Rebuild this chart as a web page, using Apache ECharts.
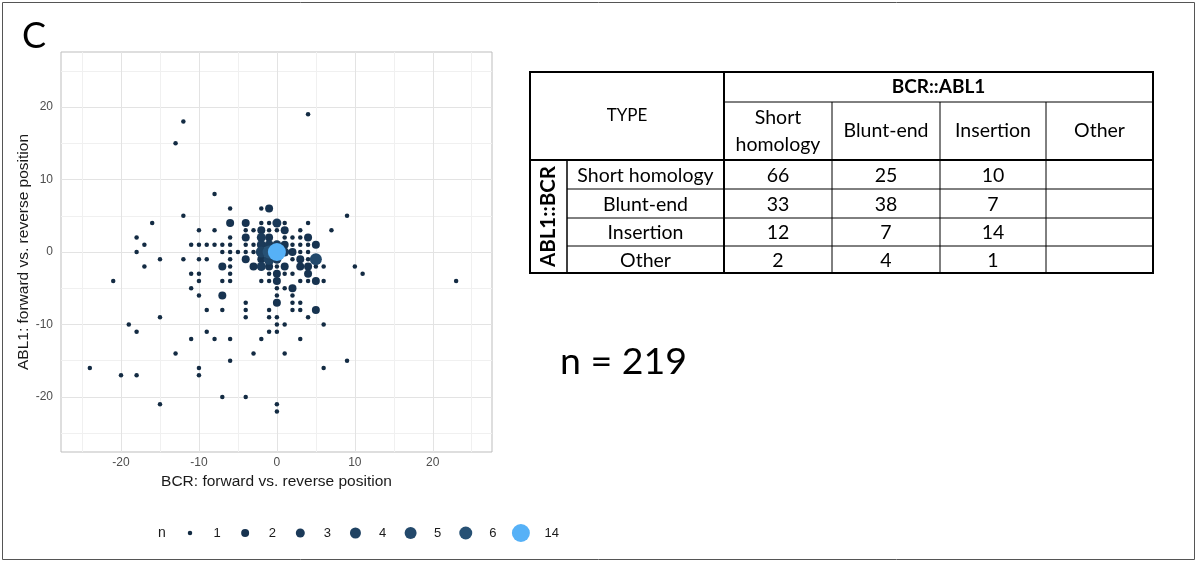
<!DOCTYPE html>
<html>
<head>
<meta charset="utf-8">
<script src="https://cdn.jsdelivr.net/npm/echarts@6.0.0/dist/echarts.min.js"></script>
<style>
html,body{margin:0;padding:0;background:#ffffff;}
#chart{width:1198px;height:563px;}
</style>
</head>
<body>
<div id="chart"></div>
<script>
// ---------------- data ----------------
// one line per y value (row), x / y / n arrays aligned element by element
const pointX = [
  -12, -13, 4, -8, -6, -2, -1, -12, 9,
  -16, -6, -4, -2, -1, 0, 1, 4,
  -10, -8, -4, -3, -2, -1, 0, 1, 3, 7,
  -18, -6, -4, -2, -1, 1, 2, 3, 4,
  -17, -11, -10, -9, -8, -7, -6, -4, -3, -2, -1, 0, 1, 2, 3, 4, 5,
  -18, -7, -6, -5, -4, -3, -2, -1, 0, 1, 2, 3, 4,
  -15, -12, -10, -9, -6, -4, -2, -1, 0, 2, 3, 4, 5,
  -17, -7, -6, -3, -2, -1, 0, 1, 3, 4, 5, 6, 10,
  -11, -10, -6, -1, 0, 1, 2, 4, 11,
  -21, -10, -7, -6, -2, -1, 0, 3, 4, 5, 6, 23,
  -11, 0, 1, 2,
  -10, -7, 0, 2,
  -4, 0, 2, 3,
  -9, -7, -4, -1, 2, 3, 5,
  -15, -4, -1, 0, 4,
  -19, 0, 1, 6,
  -18, -9, -1, 0,
  -11, -8, -6, -2, 3,
  -13, -3, 1,
  -6, 9,
  -24, -10, 6,
  -20, -18, -10,
  -7, -4,
  -15, 0,
  0
];
const pointY = [
  18, 15, 19, 8, 6, 6, 6, 5, 5,
  4, 4, 4, 4, 4, 4, 4, 4,
  3, 3, 3, 3, 3, 3, 3, 3, 3, 3,
  2, 2, 2, 2, 2, 2, 2, 2, 2,
  1, 1, 1, 1, 1, 1, 1, 1, 1, 1, 1, 1, 1, 1, 1, 1, 1,
  0, 0, 0, 0, 0, 0, 0, 0, 0, 0, 0, 0, 0,
  -1, -1, -1, -1, -1, -1, -1, -1, -1, -1, -1, -1, -1,
  -2, -2, -2, -2, -2, -2, -2, -2, -2, -2, -2, -2, -2,
  -3, -3, -3, -3, -3, -3, -3, -3, -3,
  -4, -4, -4, -4, -4, -4, -4, -4, -4, -4, -4, -4,
  -5, -5, -5, -5,
  -6, -6, -6, -6,
  -7, -7, -7, -7,
  -8, -8, -8, -8, -8, -8, -8,
  -9, -9, -9, -9, -9,
  -10, -10, -10, -10,
  -11, -11, -11, -11,
  -12, -12, -12, -12, -12,
  -14, -14, -14,
  -15, -15,
  -16, -16, -16,
  -17, -17, -17,
  -20, -20,
  -21, -21,
  -22
];
const pointN = [
  1, 1, 1, 1, 1, 1, 2, 1, 1,
  1, 2, 2, 1, 1, 3, 1, 1,
  1, 1, 1, 1, 2, 1, 1, 2, 1, 1,
  1, 1, 2, 3, 2, 1, 1, 1, 2,
  1, 1, 1, 1, 1, 1, 1, 1, 1, 3, 3, 3, 2, 1, 1, 1, 2,
  1, 1, 1, 1, 1, 1, 4, 6, 14, 3, 2, 1, 1,
  1, 1, 1, 1, 1, 2, 2, 4, 3, 1, 2, 1, 5,
  1, 2, 1, 2, 3, 2, 1, 2, 2, 2, 1, 1, 1,
  1, 1, 1, 1, 2, 1, 1, 2, 1,
  1, 1, 1, 1, 1, 1, 2, 1, 1, 2, 1, 1,
  1, 1, 1, 2,
  1, 2, 1, 1,
  1, 2, 1, 1,
  1, 1, 1, 1, 1, 1, 2,
  1, 1, 1, 1, 1,
  1, 1, 1, 1,
  1, 1, 1, 1,
  1, 1, 1, 1, 1,
  1, 1, 1,
  1, 1,
  1, 1, 1,
  1, 1, 1,
  1, 1,
  1, 1,
  1
];
const nLevels = [1, 2, 3, 4, 5, 6, 14];
const majorTicks = [-20, -10, 0, 10, 20];
const minorTicks = [-25, -15, -5, 5, 15, 25];
const xAxisTitle = 'BCR: forward vs. reverse position';
const yAxisTitle = 'ABL1: forward vs. reverse position';
const legendTitle = 'n';
const panelLabel = 'C';
const tableCorner = 'TYPE';
const tableColGroup = 'BCR::ABL1';
const tableRowGroup = 'ABL1::BCR';
const tableColumns = ['Short\nhomology', 'Blunt-end', 'Insertion', 'Other'];
const tableRows = ['Short homology', 'Blunt-end', 'Insertion', 'Other'];
const tableValues = [
  [66, 25, 10, ''],
  [33, 38, 7, ''],
  [12, 7, 14, ''],
  [2, 4, 1, '']
];
const totalLabel = 'n = 219';

// ---------------- styles / layout ----------------
const levelColor = {1:'#132B43', 2:'#173350', 3:'#1B3A59', 4:'#1F4262', 5:'#23496B', 6:'#275174', 14:'#56B1F7'};
const levelSize = {1:4.5, 2:8, 3:9, 4:11, 5:12, 6:13, 14:18};
const AX_FONT = "'Liberation Sans', Arial, sans-serif";
const TB_FONT = "Lato, 'Open Sans', sans-serif";
const xMin = -27.7, xMax = 27.6, yMin = -27.6, yMax = 27.6;

function makeAxis(kind, ticks, major) {
  const a = {
    type: 'value', gridIndex: 0,
    min: kind === 'x' ? xMin : yMin,
    max: kind === 'x' ? xMax : yMax,
    position: kind === 'x' ? 'bottom' : 'left',
    axisLine: {show: false},
    axisTick: {show: false, customValues: ticks},
    splitLine: {show: true, lineStyle: {color: major ? '#e3e3e3' : '#f0f0f0', width: 1}},
    splitArea: {show: false},
    axisLabel: major ? {show: true, customValues: ticks, color: '#4d4d4d', fontSize: 12,
      fontFamily: AX_FONT, margin: kind === 'x' ? 5 : 8} : {show: false}
  };
  if (major) {
    a.name = kind === 'x' ? xAxisTitle : yAxisTitle;
    a.nameLocation = 'middle';
    a.nameGap = kind === 'x' ? 20 : 29;
    a.nameTextStyle = {color: '#1a1a1a', fontSize: 15.5, fontFamily: AX_FONT};
  }
  return a;
}

const series = nLevels.map(lv => {
  const data = [];
  for (let i = 0; i < pointX.length; i++) {
    if (pointN[i] === lv) data.push([pointX[i], pointY[i]]);
  }
  return {
    type: 'scatter', name: String(lv), xAxisIndex: 0, yAxisIndex: 0,
    symbol: 'circle', symbolSize: levelSize[lv],
    itemStyle: {color: levelColor[lv], opacity: 1},
    emphasis: {disabled: true}, silent: true,
    data: data
  };
});

// legend: one component per level so each key keeps its own size
const legendCenterY = 533, legendX0 = 190, legendStep = 55.15, legendBox = 37;
const legends = nLevels.map((lv, i) => ({
  data: [String(lv)], orient: 'horizontal', padding: 0,
  left: legendX0 + i * legendStep - levelSize[lv] / 2,
  top: legendCenterY - Math.max(levelSize[lv] / 2, 7),
  itemWidth: legendBox, itemHeight: levelSize[lv], icon: 'circle',
  selectedMode: false,
  textStyle: {fontSize: 13, lineHeight: 14, color: '#1a1a1a', fontFamily: AX_FONT}
}));

// table geometry
const colX = [530, 567, 724, 832, 940, 1046, 1153];
const rowY = [72, 102, 160, 189, 218, 246, 273];
const G = [];
function line(x1, y1, x2, y2, w) {
  G.push({type: 'line', silent: true, shape: {x1, y1, x2, y2}, style: {stroke: '#000', lineWidth: w}});
}
function text(x, y, t, size, opts) {
  G.push(Object.assign({type: 'text', silent: true, x, y,
    style: Object.assign({text: String(t), fontSize: size, fontFamily: TB_FONT, fill: '#000',
      align: 'center', verticalAlign: 'middle'}, (opts && opts.style) || {})},
    (opts && opts.el) || {}));
}
// figure frame
G.push({type: 'rect', silent: true, z: -10, shape: {x: 2.5, y: 2.5, width: 1192, height: 557},
  style: {fill: 'none', stroke: '#555', lineWidth: 1}});
text(34, 36, panelLabel, 36);
G.push({type: 'text', silent: true, x: 162, y: legendCenterY,
  style: {text: legendTitle, fontSize: 14, fontFamily: AX_FONT, fill: '#1a1a1a', align: 'center', verticalAlign: 'middle'}});
text(560, 362, totalLabel, 37.5, {style: {align: 'left'}});

// table lines
const x0 = colX[0], xE = colX[colX.length - 1], y0 = rowY[0], yE = rowY[rowY.length - 1];
line(colX[2], rowY[1], xE, rowY[1], 1);
for (let r = 3; r < rowY.length - 1; r++) line(colX[1], rowY[r], xE, rowY[r], 1);
for (let c = 3; c < colX.length - 1; c++) line(colX[c], rowY[1], colX[c], yE, 1);
line(colX[1], rowY[2], colX[1], yE, 1.5);
line(x0, rowY[2], xE, rowY[2], 2);
line(colX[2], y0, colX[2], yE, 2);
G.push({type: 'rect', silent: true, shape: {x: x0, y: y0, width: xE - x0, height: yE - y0},
  style: {fill: 'none', stroke: '#000', lineWidth: 2}});
// table text
const TS = 19.5;
text((colX[0] + colX[2]) / 2, 116, tableCorner, 17);
text((colX[2] + xE) / 2, (rowY[0] + rowY[1]) / 2, tableColGroup, 19, {style: {fontWeight: 'bold'}});
tableColumns.forEach((c, j) => text((colX[j + 2] + colX[j + 3]) / 2, (rowY[1] + rowY[2]) / 2, c, TS, {style: {lineHeight: 27}}));
tableRows.forEach((r, i) => {
  const cy = (rowY[i + 2] + rowY[i + 3]) / 2 + 1;
  text((colX[1] + colX[2]) / 2, cy, r, TS);
  tableValues[i].forEach((v, j) => text((colX[j + 2] + colX[j + 3]) / 2, cy, v, TS));
});
text((colX[0] + colX[1]) / 2, (rowY[2] + yE) / 2, tableRowGroup, 20.5,
  {style: {fontWeight: 'bold'}, el: {rotation: Math.PI / 2}});

const option = {
  animation: false,
  backgroundColor: '#ffffff',
  tooltip: {show: false},
  grid: {left: 61, top: 52, width: 431, height: 400, show: true, borderColor: '#bdbdbd', borderWidth: 1,
    backgroundColor: 'transparent', containLabel: false, outerBoundsMode: 'none'},
  xAxis: [makeAxis('x', majorTicks, true), makeAxis('x', minorTicks, false)],
  yAxis: [makeAxis('y', majorTicks, true), makeAxis('y', minorTicks, false)],
  legend: legends,
  series: series,
  graphic: G
};
const chart = echarts.init(document.getElementById('chart'));
chart.setOption(option);
</script>
</body>
</html>
